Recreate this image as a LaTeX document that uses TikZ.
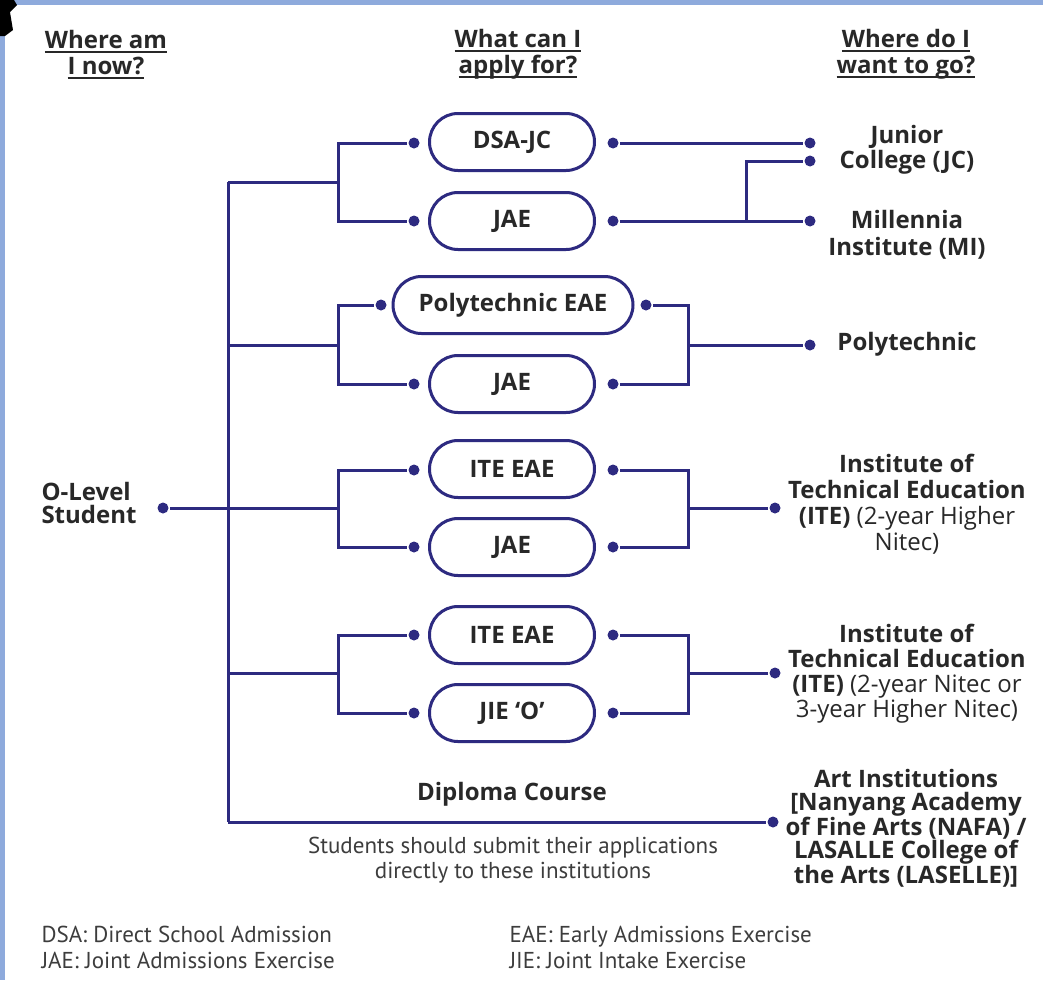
\documentclass[tikz,border=0pt]{standalone}
\usepackage{fontspec}
\setmainfont{Open Sans}
\newfontfamily\condfont{PT Sans}
\usetikzlibrary{shapes.misc}
\definecolor{ln}{RGB}{45,42,128}
\definecolor{txt}{RGB}{40,40,40}
\definecolor{frameblue}{RGB}{142,170,220}
\newcommand\myul[1]{\setbox0\hbox{#1}\leavevmode\rlap{\rule[-5pt]{\wd0}{1.6pt}}\box0}
\begin{document}
\begin{tikzpicture}[x=1pt,y=-1pt,line width=3pt,
  hdr/.style={font=\bfseries\fontsize{24}{26}\selectfont,text=txt,align=center,inner sep=0pt,anchor=base},
  lbl/.style={font=\bfseries\fontsize{24}{26}\selectfont,text=txt,align=center,inner sep=0pt,anchor=base},
  rlbl/.style={font=\fontsize{24}{26}\selectfont,text=txt,align=center,inner sep=0pt,anchor=base},
  pill/.style={rounded rectangle,draw=ln,line width=3pt,minimum width=165pt,minimum height=57pt,
    inner sep=0pt,font=\bfseries\fontsize{24}{26}\selectfont,text=txt},
  dot/.style={circle,fill=ln,inner sep=0pt,minimum size=11pt},
  wire/.style={draw=ln,line width=3pt},
  small/.style={font=\condfont\fontsize{23}{25}\selectfont,text=txt!90,inner sep=0pt}]
\useasboundingbox (0,0) rectangle (1043,980);
\fill[white] (0,0) rectangle (1043,980);
\fill[frameblue] (0,0) rectangle (5,980);
\fill[frameblue] (0,0) rectangle (1043,5);
\fill[black] (0,0) -- (14,0) -- (17,5) -- (10,12) -- (13,30) -- (5,36) -- (0,36) -- cycle;

% headers (anchor base = last line)
\node[hdr] (h1) at (106,74) {\myul{Where am}\\\myul{I now?}};
\node[hdr] (h2) at (518,73) {\myul{What can I}\\\myul{apply for?}};
\node[hdr] (h3) at (906,73) {\myul{Where do I}\\\myul{want to go?}};

% start
\node[lbl,anchor=base west,align=left,font=\bfseries\fontsize{24}{23}\selectfont] (olevel) at (40,523) {O-Level\\Student};
\node[dot] (d0) at (163,508) {};

% pills
\node[pill] (p1) at (512,142) {DSA-JC};
\node[pill] (p2) at (512,221) {JAE};
\node[pill,minimum width=240pt] (p3) at (513,305) {Polytechnic EAE};
\node[pill] (p4) at (512,384) {JAE};
\node[pill] (p5) at (512,469) {ITE EAE};
\node[pill] (p6) at (512,547) {JAE};
\node[pill] (p7) at (512,635) {ITE EAE};
\node[pill] (p8) at (512,713) {JIE ‘O’};

% pill dots
\node[dot] (dl1) at (414,143) {};
\node[dot] (dl2) at (414,221) {};
\node[dot] (dl3) at (381,305) {};
\node[dot] (dl4) at (414,384) {};
\node[dot] (dl5) at (414,470) {};
\node[dot] (dl6) at (414,547) {};
\node[dot] (dl7) at (414,635) {};
\node[dot] (dl8) at (414,713) {};
\node[dot] (dr1) at (613,143) {};
\node[dot] (dr2) at (613,221) {};
\node[dot] (dr3) at (646,305) {};
\node[dot] (dr4) at (613,384) {};
\node[dot] (dr5) at (613,470) {};
\node[dot] (dr6) at (613,547) {};
\node[dot] (dr7) at (613,635) {};
\node[dot] (dr8) at (613,713) {};

% destination dots
\node[dot] (jc1) at (810,143) {};
\node[dot] (jc2) at (810,161) {};
\node[dot] (mi) at (810,221) {};
\node[dot] (poly) at (810,345) {};
\node[dot] (ite1) at (775,508) {};
\node[dot] (ite2) at (775,673) {};
\node[dot] (art) at (773,822) {};

% trunk and branches
\coordinate (t1) at (228,182);
\coordinate (t2) at (228,345);
\coordinate (t4) at (228,673);
\coordinate (t5) at (228,822);
\coordinate (b1) at (338,182);
\coordinate (b2) at (338,345);
\coordinate (b3) at (338,508);
\coordinate (b4) at (338,673);
\draw[wire] (t1) -- (t5);
\draw[wire] (t1) -- (b1);
\draw[wire] (t2) -- (b2);
\draw[wire] (d0) -- (b3);
\draw[wire] (t4) -- (b4);
\draw[wire] (dl1) -| (b1) |- (dl2);
\draw[wire] (dl3) -| (b2) |- (dl4);
\draw[wire] (dl5) -| (b3) |- (dl6);
\draw[wire] (dl7) -| (b4) |- (dl8);

% right side wires
\coordinate (m1) at (746,221);
\coordinate (v2) at (688,345);
\coordinate (v3) at (688,508);
\coordinate (v4) at (688,673);
\draw[wire] (dr1) -- (jc1);
\draw[wire] (dr2) -- (mi);
\draw[wire] (m1) |- (jc2);
\draw[wire] (dr3) -| (v2) |- (dr4);
\draw[wire] (v2) -- (poly);
\draw[wire] (dr5) -| (v3) |- (dr6);
\draw[wire] (v3) -- (ite1);
\draw[wire] (dr7) -| (v4) |- (dr8);
\draw[wire] (v4) -- (ite2);
\draw[wire] (t5) -- (art);

% destination labels (anchor base = last line)
\node[lbl,font=\bfseries\fontsize{24}{25}\selectfont] (ljc) at (907,168) {Junior\\College (JC)};
\node[lbl,font=\bfseries\fontsize{24}{27}\selectfont] (lmi) at (907,255) {Millennia\\Institute (MI)};
\node[lbl] (lpoly) at (907,350) {Polytechnic};
\node[rlbl] (lite1) at (907,550) {\textbf{Institute of}\\\textbf{Technical Education}\\\textbf{(ITE)} (2-year Higher\\Nitec)};
\node[rlbl,font=\fontsize{24}{25}\selectfont] (lite2) at (907,717) {\textbf{Institute of}\\\textbf{Technical Education}\\\textbf{(ITE)} (2-year Nitec or\\3-year Higher Nitec)};
\node[lbl,font=\bfseries\fontsize{24}{22.8}\selectfont] (lart) at (906,883) {Art Institutions\\{}[Nanyang Academy\\of Fine Arts (NAFA) /\\LASALLE College of\\the Arts (LASELLE)]};

% bottom texts
\node[lbl] (dip) at (512,800) {Diploma Course};
\node[small,align=center,anchor=base] (note) at (513,878) {Students should submit their applications\\directly to these institutions};
\node[small,align=left,anchor=base west,font=\condfont\fontsize{23}{26}\selectfont] (leg1) at (40,968) {DSA: Direct School Admission\\JAE: Joint Admissions Exercise};
\node[small,align=left,anchor=base west,font=\condfont\fontsize{23}{26}\selectfont] (leg2) at (508,968) {EAE: Early Admissions Exercise\\JIE: Joint Intake Exercise};
\end{tikzpicture}
\end{document}
